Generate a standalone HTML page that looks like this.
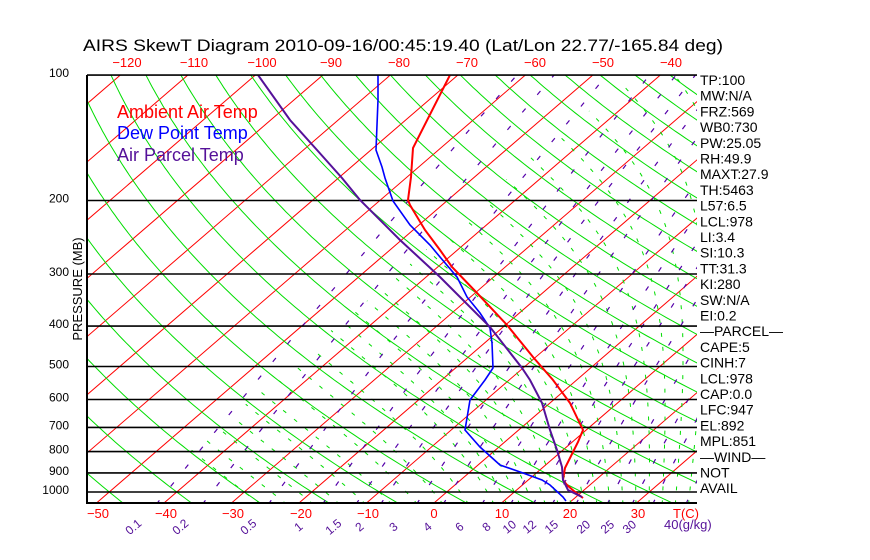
<!DOCTYPE html>
<html><head><meta charset="utf-8"><style>
html,body{margin:0;padding:0;background:#fff;width:870px;height:560px;overflow:hidden}
svg{display:block}
text{font-family:"Liberation Sans",sans-serif}
</style></head><body>
<svg id="s" width="870" height="560" xmlns="http://www.w3.org/2000/svg">
<defs><clipPath id="c"><rect x="87" y="75" width="610" height="428"/></clipPath></defs>
<g id="g" clip-path="url(#c)"></g>
<g id="t"></g>
</svg>
<script>
(function(){
var NS="http://www.w3.org/2000/svg";
function Y(p){return 75+417*Math.log10(p/100);}
function X(T,p){return 434+6.75*T+1.16*(503-Y(p));}
var g=document.getElementById('g'),tg=document.getElementById('t');
function poly(pts,col,w,dash,par){if(pts.length<2)return;var e=document.createElementNS(NS,'polyline');e.setAttribute('points',pts.map(function(q){return q[0].toFixed(1)+','+q[1].toFixed(1)}).join(' '));e.setAttribute('fill','none');e.setAttribute('stroke',col);e.setAttribute('stroke-width',w);if(dash)e.setAttribute('stroke-dasharray',dash);(par||g).appendChild(e);}
function txt(x,y,s,col,size,anchor,rot,tl){var e=document.createElementNS(NS,'text');e.setAttribute('x',x);e.setAttribute('y',y);e.setAttribute('fill',col);e.setAttribute('font-size',size);if(anchor)e.setAttribute('text-anchor',anchor);if(rot)e.setAttribute('transform','rotate('+rot+' '+x+' '+y+')');if(tl){e.setAttribute('textLength',tl);e.setAttribute('lengthAdjust','spacingAndGlyphs');}e.textContent=s;tg.appendChild(e);}
var ps=[];for(var p=1070;p>=98;p*=0.98)ps.push(p);ps.push(98);
// isotherms
for(var T=-160;T<=60;T+=10){poly([[X(T,1070),Y(1070)],[X(T,98),Y(98)]],'#ff0000',1);}
// dry adiabats
for(var th=-60;th<=220;th+=10){var pts=[];ps.forEach(function(p){var Tk=(th+273.15)*Math.pow(p/1000,0.286);pts.push([X(Tk-273.15,p),Y(p)]);});poly(pts,'#00dd00',1);}
// moist adiabats
function es(Tc){return 6.112*Math.exp(17.67*Tc/(Tc+243.5));}
function dTdp(T,p){var Tc=T-273.15;var e=es(Tc);var rs=0.622*e/(p-e);return (287*T+2.5e6*rs)/(p*(1004+2.5e6*2.5e6*rs*0.622/(287*T*T)));}
for(var T0=-30;T0<=44;T0+=(T0<4?4:2)){
 var T=T0+273.15,pp=1000,down=[],up=[];
 while(pp<1070){T+=dTdp(T,pp)*2;pp+=2;if(T-273.15>-45)down.push([X(T-273.15,pp),Y(pp)]);}
 T=T0+273.15;pp=1000;if(T0>-45)up.push([X(T0,pp),Y(pp)]);
 while(pp>100){T+=dTdp(T,pp)*(-2);pp-=2;if(T-273.15<-45)break;up.push([X(T-273.15,pp),Y(pp)]);}
 poly(down.reverse().concat(up),'#00dd00',1,'4,10');}
// mixing ratio lines
[0.1,0.2,0.5,1,1.5,2,3,4,6,8,10,12,15,20,25,30,40].forEach(function(w){var pts=[];ps.forEach(function(p){var wk=w/1000;var e=wk*p/(0.622+wk);var l=Math.log(e/6.112);var Td=243.5*l/(17.67-l);pts.push([X(Td,p),Y(p)]);});poly(pts,'#5500aa',1.2,'5,18');});
// pressure lines
[100,200,300,400,500,600,700,800,900,1000].forEach(function(p){poly([[87,Y(p)],[697,Y(p)]],'#000',1.6);});
poly([[87,75],[87,503],[697,503]],'#000',2,null,tg);
poly([[87,75],[697,75]],'#000',1.6,null,tg);
// profiles
poly([[450,75],[413,148],[411,177],[408,200],[410,205],[425,230],[440,250],[452,267],[477,293],[507,325],[533,357],[553,380],[570,403],[583,430],[578,442],[565,468],[563,480],[567,485],[575,492],[583,498]],'#ff0000',2);
poly([[378,75],[378,100],[377,125],[376,150],[382,167],[385,178],[393,201],[410,225],[430,245],[440,257],[457,277],[467,297],[480,313],[490,328],[492,343],[493,368],[485,380],[470,400],[465,430],[480,447],[500,465],[523,473],[542,480],[550,485],[563,497],[566,501]],'#0000ff',1.6);
poly([[258,75],[290,120],[317,150],[342,178],[360,200],[400,240],[440,277],[490,327],[522,368],[530,380],[542,403],[550,430],[557,450],[562,467],[563,480],[568,490],[582,497]],'#551199',2);
// labels
txt(83,51,'AIRS SkewT Diagram 2010-09-16/00:45:19.40 (Lat/Lon 22.77/-165.84 deg)','#000',17,null,null,640);
var tv=[-120,-110,-100,-90,-80,-70,-60,-50,-40],tx=[127,194,262,331,399,467,535,603,671];
tv.forEach(function(v,i){txt(tx[i],67,String(v).replace('-','\u2212'),'#ff0000',13,'middle');});
var bt=[-50,-40,-30,-20,-10,0,10,20,30],bx=[98,166,233,301,368,434,502,570,638];
bt.forEach(function(v,i){txt(bx[i],518,String(v).replace('-','\u2212'),'#ff0000',13,'middle');});
txt(686,518,'T(C)','#ff0000',13,'middle');
[100,200,300,400,500,600,700,800,900,1000].forEach(function(p){txt(69,Y(p)+2,String(p),'#000',12,'end');});
txt(82,289,'PRESSURE (MB)','#000',13,'middle',-90);
var ml=['0.1','0.2','0.5','1','1.5','2','3','4','6','8','10','12','15','20','25','30'],mx=[140,187,255,305,340,366,400,434,466,493,516,536,558,590,614,636];
ml.forEach(function(s,i){txt(mx[i]-4,530,s,'#551199',12,'middle',-40);});
txt(664,529,'40(g/kg)','#551199',13,null);
txt(117,118,'Ambient Air Temp','#ff0000',18);
txt(117,139,'Dew Point Temp','#0000ff',18);
txt(117,161,'Air Parcel Temp','#551199',18);
var rt=['TP:100','MW:N/A','FRZ:569','WB0:730','PW:25.05','RH:49.9','MAXT:27.9','TH:5463','L57:6.5','LCL:978','LI:3.4','SI:10.3','TT:31.3','KI:280','SW:N/A','EI:0.2','\u2014PARCEL\u2014','CAPE:5','CINH:7','LCL:978','CAP:0.0','LFC:947','EL:892','MPL:851','\u2014WIND\u2014',' NOT','AVAIL'];
rt.forEach(function(s,i){txt(700,85+i*15.7,s,'#000',14);});
})();
</script>
</body></html>
